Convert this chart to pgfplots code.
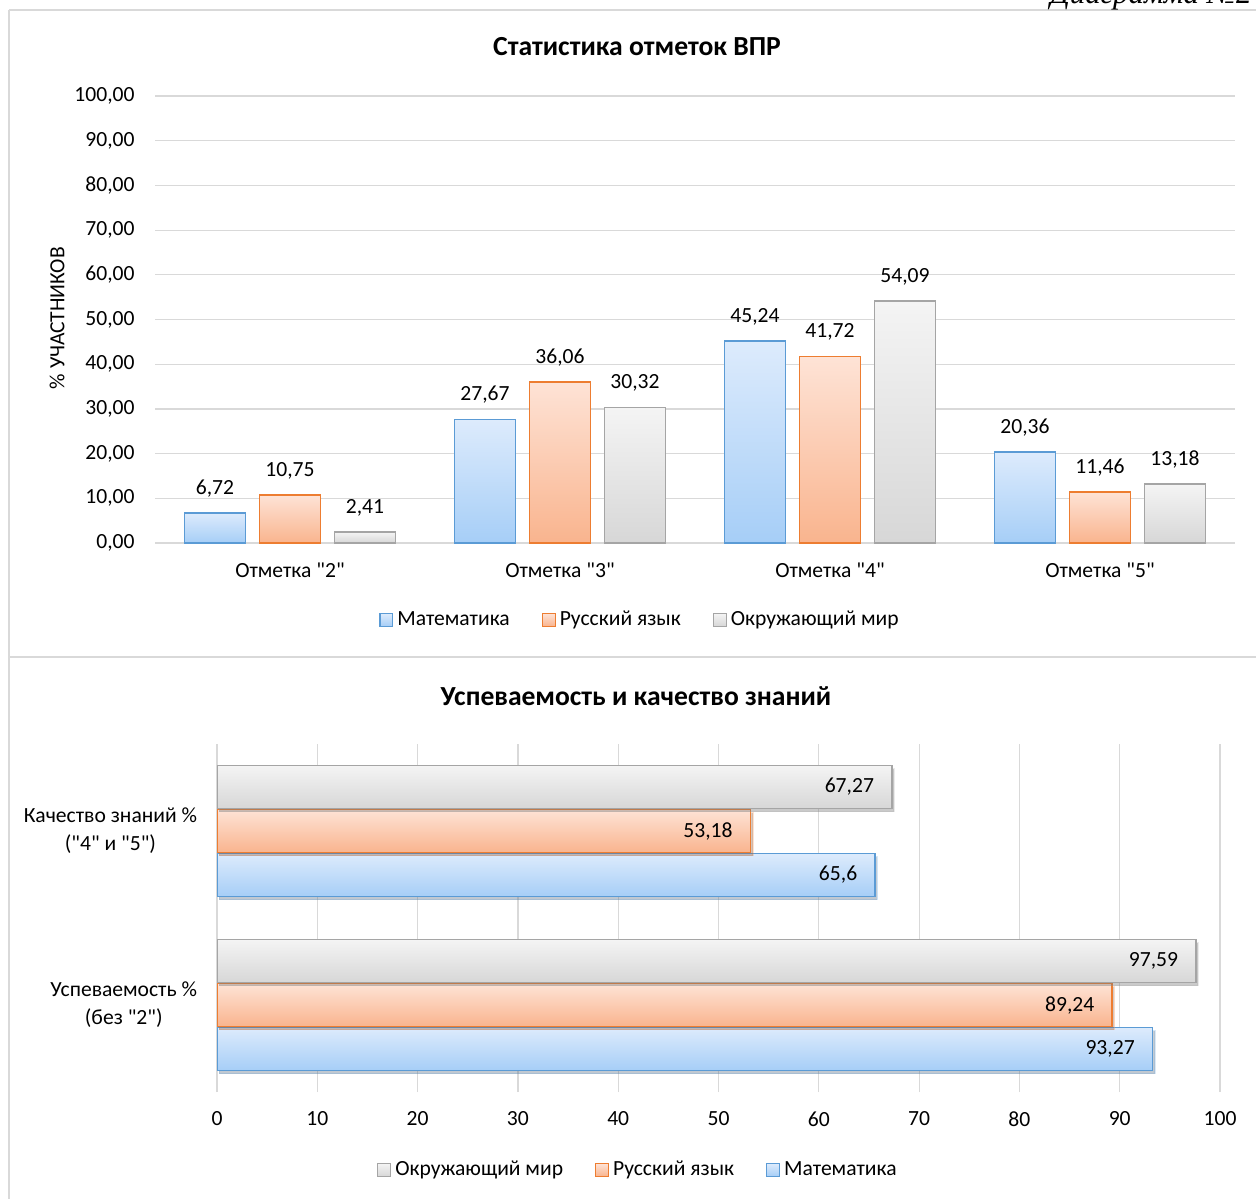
\documentclass[border=0pt]{standalone}
\usepackage{fontspec}
\setmainfont{Carlito}[Ligatures=TeXOff]
\newfontfamily\serifit{Liberation Serif}
\usepackage{pgfplots}
\pgfplotsset{compat=1.18}
\usetikzlibrary{shadows}

\definecolor{gridgray}{HTML}{D9D9D9}
\definecolor{framegray}{HTML}{D9D9D9}
\definecolor{mathB}{HTML}{5B9BD5}
\definecolor{mathT}{HTML}{DDEBFC}
\definecolor{mathD}{HTML}{A6CEF7}
\definecolor{rusB}{HTML}{ED7D31}
\definecolor{rusT}{HTML}{FEE3D6}
\definecolor{rusD}{HTML}{F9B48E}
\definecolor{envB}{HTML}{A5A5A5}
\definecolor{envT}{HTML}{F4F4F4}
\definecolor{envD}{HTML}{D7D7D7}

\newcommand{\legsq}[3]{\draw[draw=#1, top color=#2, bottom color=#3, line width=0.6pt] (0pt,-3.2pt) rectangle (6.4pt,3.2pt);}

\pgfplotsset{
  chartbase/.style={
    scale only axis,
    axis line style={draw=none},
    tick style={draw=none},
    grid style={draw=gridgray, line width=0.6pt},
    tick label style={font=\fontsize{10.8}{13}\selectfont},
    /pgf/number format/assume math mode=true,
    legend style={draw=none, fill=none, font=\fontsize{10.8}{13}\selectfont,
      legend columns=3, anchor=center,
      /tikz/every even column/.append style={column sep=14pt}},
    legend cell align=left,
  },
  mathbar/.style={draw=mathB, line width=0.8pt, top color=mathT, bottom color=mathD,
    legend image code/.code={\legsq{mathB}{mathT}{mathD}}},
  rusbar/.style={draw=rusB, line width=0.8pt, top color=rusT, bottom color=rusD,
    legend image code/.code={\legsq{rusB}{rusT}{rusD}}},
  envbar/.style={draw=envB, line width=0.8pt, top color=envT, bottom color=envD,
    legend image code/.code={\legsq{envB}{envT}{envD}}},
  shad/.style={drop shadow={shadow xshift=1.2pt, shadow yshift=-1.5pt, fill=black, opacity=0.22}},
}

\begin{document}
\begin{tikzpicture}
\useasboundingbox (0pt,0pt) rectangle (628pt,-599pt);

% frame lines
\draw[framegray, line width=1pt] (4.5pt,-5pt) -- (630pt,-5pt);
\draw[framegray, line width=1pt] (4.5pt,-5pt) -- (4.5pt,-600pt);
\draw[framegray, line width=1pt] (4.5pt,-328.7pt) -- (630pt,-328.7pt);

% caption cut off at the top of the page
\node[anchor=base east, inner sep=0pt] at (626pt,-2pt) {\serifit\itshape\fontsize{15.5}{18}\selectfont Диаграмма №2};

% titles
\node[font=\fontsize{13.8}{16}\selectfont\bfseries] at (318.5pt,-23.5pt) {Статистика отметок ВПР};
\node[font=\fontsize{13.8}{16}\selectfont\bfseries] at (318pt,-348pt) {Успеваемость и качество знаний};
\node[rotate=90, font=\fontsize{10.8}{13}\selectfont] at (28.5pt,-159pt) {\% УЧАСТНИКОВ};

% top chart
\begin{axis}[chartbase,
  at={(77.5pt,-271.5pt)}, anchor=south west,
  width=540pt, height=223.5pt,
  xmin=-0.5, xmax=3.5, ymin=0, ymax=100,
  ytick={0,10,...,100},
  ymajorgrids,
  xtick={0,1,2,3},
  xticklabels={Отметка "2",Отметка "3",Отметка "4",Отметка "5"},
  xticklabel style={anchor=center, yshift=-9.5pt},
  yticklabel style={anchor=east, inner sep=0pt, xshift=-10pt,
    /pgf/number format/.cd, fixed, fixed zerofill, precision=2, use comma},
  ybar, bar width=30.5pt,
  nodes near coords={\pgfmathprintnumber[fixed,fixed zerofill,precision=2,use comma]{\pgfplotspointmeta}},
  every node near coord/.append style={anchor=base, inner sep=0pt, yshift=9.3pt, font=\fontsize{10.8}{13}\selectfont, black},
  legend style={at={(0.45,-0.172)}},
]
% Математика
\addplot[mathbar, bar shift=-37.5pt] coordinates {(0,6.72)};
\addlegendentry{Математика}
\addplot[mathbar, bar shift=-37.5pt, forget plot] coordinates {(1,27.67)};
\addplot[mathbar, bar shift=-37.5pt, forget plot] coordinates {(2,45.24)};
\addplot[mathbar, bar shift=-37.5pt, forget plot] coordinates {(3,20.36)};
% Русский язык
\addplot[rusbar, bar shift=0pt] coordinates {(0,10.75)};
\addlegendentry{Русский язык}
\addplot[rusbar, bar shift=0pt, forget plot] coordinates {(1,36.06)};
\addplot[rusbar, bar shift=0pt, forget plot] coordinates {(2,41.72)};
\addplot[rusbar, bar shift=0pt, forget plot] coordinates {(3,11.46)};
% Окружающий мир
\addplot[envbar, bar shift=37.5pt] coordinates {(0,2.41)};
\addlegendentry{Окружающий мир}
\addplot[envbar, bar shift=37.5pt, forget plot] coordinates {(1,30.32)};
\addplot[envbar, bar shift=37.5pt, forget plot] coordinates {(2,54.09)};
\addplot[envbar, bar shift=37.5pt, forget plot] coordinates {(3,13.18)};
\end{axis}

% bottom chart
\begin{axis}[chartbase,
  at={(108.5pt,-546pt)}, anchor=south west,
  width=501.5pt, height=174pt,
  xmin=0, xmax=100, ymin=-0.5, ymax=1.5,
  xtick={0,10,...,100},
  xmajorgrids,
  ytick={0,1},
  yticklabels={{Успеваемость \%\\(без "2")},{Качество знаний \%\\("4" и "5")}},
  yticklabel style={anchor=east, align=center, inner sep=0pt, xshift=-5.5pt, font=\fontsize{10.8}{14}\selectfont},
  xticklabel style={anchor=center, yshift=-13.5pt},
  xbar, bar width=21.5pt,
  point meta=x,
  nodes near coords={\pgfmathprintnumber[fixed,precision=2,use comma]{\pgfplotspointmeta}},
  every node near coord/.append style={anchor=east, inner sep=0pt, xshift=-8.5pt, font=\fontsize{10.8}{13}\selectfont, black},
  legend style={at={(0.4207,-0.224)}},
]
\addplot[mathbar, shad, bar shift=-22pt, forget plot] coordinates {(93.27,0)};
\addplot[mathbar, shad, bar shift=-22pt, forget plot] coordinates {(65.6,1)};
\addplot[rusbar, shad, bar shift=0pt, forget plot] coordinates {(89.24,0)};
\addplot[rusbar, shad, bar shift=0pt, forget plot] coordinates {(53.18,1)};
\addplot[envbar, shad, bar shift=22pt, forget plot] coordinates {(97.59,0)};
\addplot[envbar, shad, bar shift=22pt, forget plot] coordinates {(67.27,1)};
\addlegendimage{envbar}
\addlegendentry{Окружающий мир}
\addlegendimage{rusbar}
\addlegendentry{Русский язык}
\addlegendimage{mathbar}
\addlegendentry{Математика}
\end{axis}
\end{tikzpicture}
\end{document}
